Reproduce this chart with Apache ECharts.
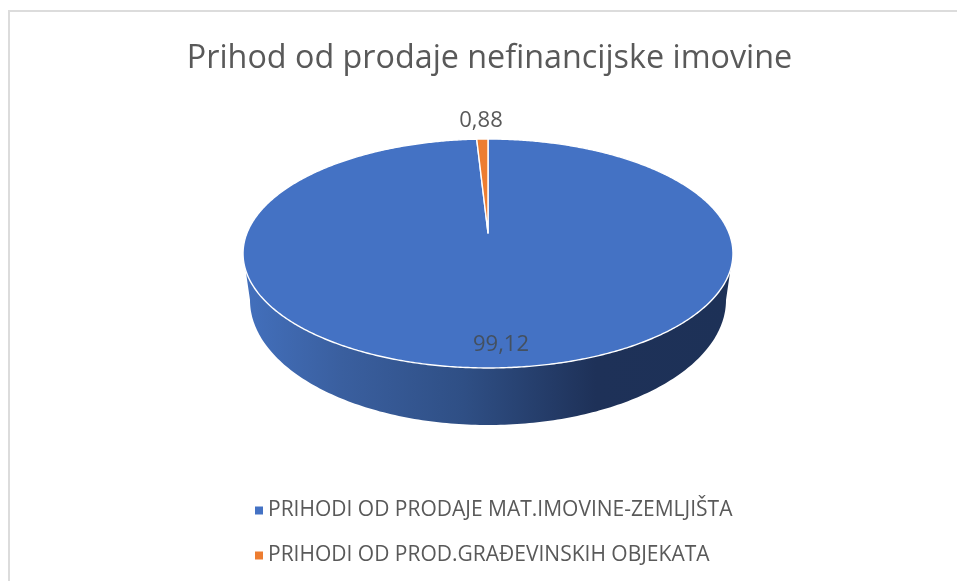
<!DOCTYPE html>
<html>
<head>
<meta charset="utf-8">
<style>html,body{margin:0;padding:0;background:#fff}#c{width:957px;height:581px}</style>
<script src="https://cdn.jsdelivr.net/npm/echarts@6/dist/echarts.min.js"></script>
</head>
<body>
<div id="c"></div>
<script>
var titleText = 'Prihod od prodaje nefinancijske imovine';
var categories = ['PRIHODI OD PRODAJE MAT.IMOVINE-ZEMLJIŠTA', 'PRIHODI OD PROD.GRAĐEVINSKIH OBJEKATA'];
var values = [99.12, 0.88];
var colors = ['#4472c4', '#ed7d31'];

var FONT = '"Open Sans", sans-serif';
var total = values.reduce(function (a, b) { return a + b; }, 0);

// Perspective projection of the pie's top disc
var CX = 488, APEX_Y = 233, RX = 241, RY = 110.8, P = 0.179;
function project(deg) {
  var t = deg * Math.PI / 180, s = 1 / (1 + P * Math.cos(t));
  return [CX + RX * Math.sin(t) * s, APEX_Y - RY * Math.cos(t) * s];
}
function sectorPoints(from, to) {
  var pts = [[CX, APEX_Y]], n = Math.max(2, Math.ceil((to - from) * 2));
  for (var i = 0; i <= n; i++) pts.push(project(from + (to - from) * i / n));
  return pts;
}
function wallItem() {
  var pts = [[243, 252]], cy = 300, rx = 238, ry = 125;
  for (var a = 180; a >= 0; a -= 1) {
    var t = a * Math.PI / 180;
    pts.push([CX + rx * Math.cos(t), cy + ry * Math.sin(t)]);
  }
  pts.push([733, 252]);
  return {
    type: 'polygon', shape: { points: pts },
    style: {
      fill: new echarts.graphic.LinearGradient(243, 0, 733, 0, [
        { offset: 0, color: '#4370bd' },
        { offset: 0.2, color: '#3a5f9f' },
        { offset: 0.45, color: '#2f4f85' },
        { offset: 0.72, color: '#1e3158' },
        { offset: 1, color: '#1d3157' }
      ], true)
    }
  };
}
function sliceSeries(idx, labelPos, labelColor) {
  var before = values.slice(0, idx).reduce(function (a, b) { return a + b; }, 0);
  return {
    type: 'custom', name: categories[idx], coordinateSystem: 'none', silent: true, z: 3,
    itemStyle: { color: colors[idx] },
    data: [values[idx]],
    renderItem: function (params, api) {
      var v = api.value(0);
      var from = before / total * 360, to = (before + v) / total * 360;
      return {
        type: 'group',
        children: [
          { type: 'polygon', shape: { points: sectorPoints(from, to) },
            style: { fill: colors[idx], stroke: '#ffffff', lineWidth: 1.4, lineJoin: 'round' } },
          { type: 'text', z2: 10, x: labelPos[0], y: labelPos[1],
            style: { text: String(v).replace('.', ','), fill: labelColor, font: '22px ' + FONT,
                     align: 'center', verticalAlign: 'middle' } }
        ]
      };
    }
  };
}

var chart = echarts.init(document.getElementById('c'), null, { renderer: 'canvas' });
chart.setOption({
  animation: false,
  backgroundColor: '#ffffff',
  title: {
    text: titleText, left: 484.5, top: 38, textAlign: 'center',
    textStyle: { color: '#595959', fontFamily: FONT, fontWeight: 'normal', fontSize: 32.3 }
  },
  legend: {
    orient: 'vertical', left: 250, top: 495, icon: 'rect',
    itemWidth: 8, itemHeight: 8, itemGap: 24,
    selectedMode: false, align: 'left',
    data: categories,
    textStyle: { color: '#595959', fontFamily: FONT, fontSize: 21 }
  },
  graphic: [
    { type: 'rect', shape: { x: 8, y: 10, width: 949, height: 2 }, style: { fill: '#dcdcdc' }, silent: true },
    { type: 'rect', shape: { x: 8, y: 10, width: 2, height: 571 }, style: { fill: '#dcdcdc' }, silent: true }
  ],
  series: [
    { type: 'custom', coordinateSystem: 'none', silent: true, z: 2, data: [total],
      renderItem: function () { return wallItem(); } },
    sliceSeries(0, [501, 345], '#44505f'),
    sliceSeries(1, [481, 121], '#595959')
  ]
});
</script>
</body>
</html>
